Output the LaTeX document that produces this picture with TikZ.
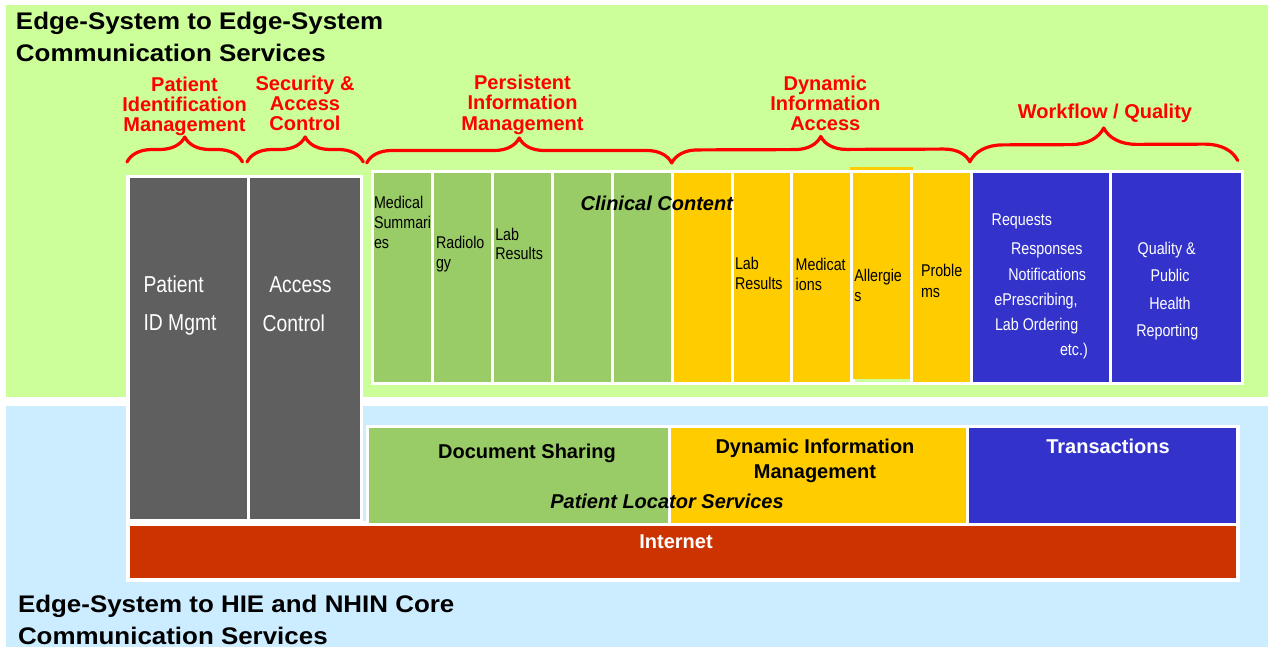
\documentclass[tikz,border=0pt]{standalone}
\usepackage{fontspec}
\setmainfont{Liberation Sans}
\newfontfamily\narrowfont[FakeStretch=0.84]{Liberation Sans}
\newfontfamily\titlefont[FakeStretch=1.08]{Liberation Sans}
\usetikzlibrary{decorations.pathreplacing}
\definecolor{bggreen}{HTML}{CCFF99}
\definecolor{bgblue}{HTML}{CCECFF}
\definecolor{idgray}{HTML}{5F5F5F}
\definecolor{colgreen}{HTML}{99CC66}
\definecolor{colyellow}{HTML}{FFCC00}
\definecolor{colblue}{HTML}{3333CC}
\definecolor{netred}{HTML}{CC3300}
\definecolor{lblred}{HTML}{FF0000}
\newcommand\pbox[6]{\node[pbx,fill=#6,minimum width={(#4)-(#2)},minimum height={(#5)-(#3)}] (#1) at (#2,#3) {};}
\begin{document}
\begin{tikzpicture}[x=1pt,y=-1pt,
  pbx/.style={draw=none,inner sep=0pt,outer sep=0pt,anchor=north west},
  tx/.style={inner sep=0pt,outer sep=0pt},
  title/.style={tx,anchor=north west,align=left,font=\titlefont\bfseries\fontsize{24}{32}\selectfont},
  redlbl/.style={tx,anchor=north,align=center,text=lblred,font=\bfseries\fontsize{20}{19.7}\selectfont},
  coltext/.style={tx,anchor=north west,align=left,text=black,font=\narrowfont\fontsize{17}{20}\selectfont},
  graytext/.style={tx,anchor=base west,text=white,font=\narrowfont\fontsize{23}{28}\selectfont},
  bluetext/.style={tx,text=white,font=\narrowfont\fontsize{17}{20}\selectfont},
  boldtext/.style={tx,font=\bfseries\fontsize{20}{25}\selectfont},
  brc/.style={draw=lblred,line width=3.2pt,line cap=round,line join=round,decorate},
]
\useasboundingbox (0,0) rectangle (1268,647);
\fill[white] (0,0) rectangle (1268,647);
% background regions
\pbox{topregion}{6}{5}{1268}{397}{bggreen}
\pbox{bottomregion}{6}{406}{1268}{647}{bgblue}
% white frames
\pbox{idframe}{126}{175}{363.3}{582}{white}
\pbox{netframe}{126}{521}{1239.5}{582}{white}
\pbox{rowframe}{366}{425}{1239.5}{525}{white}
\pbox{colframe}{370.7}{170}{1243.5}{385}{white}
% identity / access columns
\pbox{pid}{129.5}{178.3}{247}{519.3}{idgray}
\pbox{acc}{250}{178.3}{360}{519.3}{idgray}
% internet
\pbox{net}{129.5}{525.5}{1236}{578.3}{netred}
% clinical content (green)
\pbox{g1}{374}{173.3}{431}{381.7}{colgreen}
\pbox{g2}{434}{173.3}{491}{381.7}{colgreen}
\pbox{g3}{494}{173.3}{550.5}{381.7}{colgreen}
\pbox{g4}{553.5}{173.3}{611}{381.7}{colgreen}
\pbox{g5}{614}{173.3}{670.5}{381.7}{colgreen}
% dynamic (yellow)
\pbox{y1}{674}{173.3}{731}{381.7}{colyellow}
\pbox{y2}{734}{173.3}{789.5}{381.7}{colyellow}
\pbox{y3}{793}{173.3}{849.5}{381.7}{colyellow}
\pbox{y4top}{850}{167.3}{913}{170.3}{colyellow}
\pbox{y4gap}{855}{379.3}{910}{382}{bggreen}
\pbox{y4}{853}{173.3}{910}{378.5}{colyellow}
\pbox{y5}{913}{173.3}{970}{381.7}{colyellow}
% workflow (blue)
\pbox{w1}{973}{173.3}{1108.5}{381.7}{colblue}
\pbox{w2}{1112}{173.3}{1241}{381.7}{colblue}
% bottom row
\pbox{docshare}{369.3}{428.3}{667.5}{523.3}{colgreen}
\pbox{dynmgmt}{670.5}{428.3}{966}{523.3}{colyellow}
\pbox{trans}{969}{428.3}{1236}{523.3}{colblue}

% titles
\node[title] (ttop) at (16,11.8) {Edge-System to Edge-System\\Communication Services};
\node[title] (tbot) at (18,595.6) {Edge-System to HIE and NHIN Core\\Communication Services};

% red labels
\node[redlbl] (lpim) at (184.5,77.5) {Patient\\Identification\\Management};
\node[redlbl] (lsac) at (305,76.2) {Security \&\\Access\\Control};
\node[redlbl,font=\bfseries\fontsize{20}{20.5}\selectfont] (lpers) at (522.5,74.8) {Persistent\\Information\\Management};
\node[redlbl] (ldyn) at (825.3,76.5) {Dynamic\\Information\\Access};
\node[redlbl,anchor=base] (lwq) at (1105,118.3) {Workflow / Quality};

% braces
\draw[brc,decoration={brace,amplitude=25pt}] (127,162) -- (242.5,162);
\draw[brc,decoration={brace,amplitude=25pt}] (247,162) -- (363.3,162);
\draw[brc,decoration={brace,amplitude=25pt}] (366.7,163) -- (671.7,163);
\draw[brc,decoration={brace,amplitude=26pt}] (671.7,163) -- (970,162);
\draw[brc,decoration={brace,amplitude=33pt}] (970,161.5) -- (1237.7,160.5);

% gray texts
\node[graytext] (tpid1) at (143.5,292.7) {Patient};
\node[graytext] (tpid2) at (143.5,330.7) {ID Mgmt};
\node[graytext] (tacc1) at (269.3,292.7) {Access};
\node[graytext] (tacc2) at (262.7,331.7) {Control};

% column texts
\node[coltext] (tg1) at (374,196.1) {Medical\\Summari\\es};
\node[coltext] (tg2) at (436,236.1) {Radiolo\\gy};
\node[coltext,font=\narrowfont\fontsize{17}{19.5}\selectfont] (tg3) at (495.3,227.8) {Lab\\Results};
\node[tx,anchor=base west,font=\bfseries\itshape\fontsize{20}{24}\selectfont] (clin) at (580.7,210.7) {Clinical Content};
\node[coltext] (ty2) at (735,257.1) {Lab\\Results};
\node[coltext] (ty3) at (795.7,257.8) {Medicat\\ions};
\node[coltext] (ty4) at (854.3,269.5) {Allergie\\s};
\node[coltext,font=\narrowfont\fontsize{17}{20.6}\selectfont] (ty5) at (921,264.5) {Proble\\ms};

% workflow texts
\node[bluetext,anchor=base west] (tw1) at (991.7,225.7) {Requests};
\node[bluetext,anchor=base west] (tw2) at (1011,254) {Responses};
\node[bluetext,anchor=base west] (tw3) at (1008.3,280) {Notifications};
\node[bluetext,anchor=base west] (tw4) at (994.3,305) {ePrescribing,};
\node[bluetext,anchor=base west] (tw5) at (995,330) {Lab Ordering};
\node[bluetext,anchor=base west] (tw6) at (1060,355) {etc.)};
\node[bluetext,anchor=base] (tq1) at (1166.7,254) {Quality \&};
\node[bluetext,anchor=base] (tq2) at (1170,281.7) {Public};
\node[bluetext,anchor=base] (tq3) at (1170,309.3) {Health};
\node[bluetext,anchor=base] (tq4) at (1167.3,336.7) {Reporting};

% bottom row texts
\node[boldtext,anchor=base] (tdoc) at (527,458.3) {Document Sharing};
\node[boldtext,anchor=north,align=center] (tdyn) at (815,438.8) {Dynamic Information\\Management};
\node[boldtext,anchor=base,text=white] (ttrans) at (1108,453.3) {Transactions};
\node[tx,anchor=base,font=\bfseries\itshape\fontsize{20}{24}\selectfont] (tloc) at (667,508.3) {Patient Locator Services};
\node[boldtext,anchor=base,text=white] (tnet) at (676,548.3) {Internet};
\end{tikzpicture}
\end{document}
